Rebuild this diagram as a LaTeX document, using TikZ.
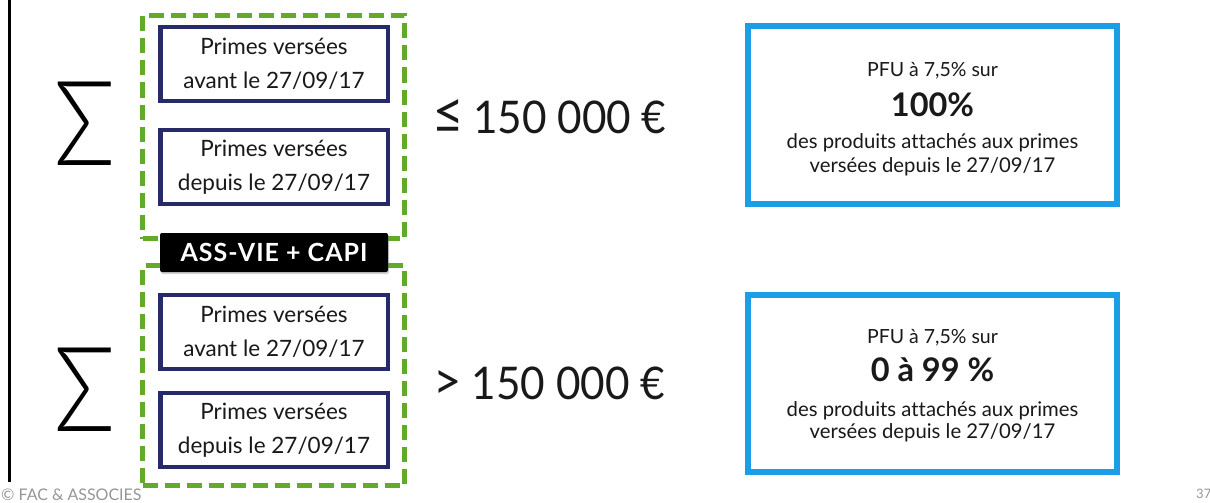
\documentclass[tikz,border=0pt]{standalone}
\usepackage{fontspec}
\setmainfont{Lato}[Ligatures=NoCommon]
\IfFontExistsTF{Lato Light}{\newfontfamily\sigmafont{Lato Light}}{\newfontfamily\sigmafont{Lato}}
\usetikzlibrary{shadows}
\definecolor{navy}{RGB}{38,42,104}
\definecolor{leaf}{RGB}{98,170,42}
\definecolor{sky}{RGB}{28,158,230}
\definecolor{ink}{RGB}{25,25,25}
\definecolor{footgray}{RGB}{150,150,150}
\begin{document}
\begin{tikzpicture}[x=1pt,y=-1pt,
  primebox/.style={draw=navy, line width=4.5pt, minimum width=227.5pt,
    minimum height=74pt, inner sep=0pt, align=center, text=ink,
    font=\fontsize{22.5}{34}\selectfont},
  groupbox/.style={draw=leaf, line width=5pt, dash pattern=on 15pt off 7pt,
    minimum width=262pt, inner sep=0pt},
  tagbox/.style={fill=black, text=white, rounded corners=2pt,
    minimum width=228pt, minimum height=39pt, inner sep=0pt,
    font=\bfseries\addfontfeatures{LetterSpace=4}\fontsize{25}{25}\selectfont,
    drop shadow={opacity=0.35, shadow xshift=1pt, shadow yshift=-2pt}},
  sumsign/.style={text=black, inner sep=0pt, xscale=0.86,
    font=\sigmafont\fontsize{118}{118}\selectfont},
  limit/.style={anchor=base, text=ink, inner sep=0pt, xscale=0.94,
    font=\fontsize{45}{45}\selectfont},
  resultbox/.style={draw=sky, line width=6pt, minimum width=369pt, inner sep=0pt},
  rtext/.style={anchor=base, text=ink, inner sep=0pt, font=\fontsize{20.3}{22}\selectfont},
  rsmall/.style={rtext, font=\fontsize{19.5}{22}\selectfont},
  rbig/.style={anchor=base, text=ink, inner sep=0pt, font=\bfseries\fontsize{32.5}{33}\selectfont},
  foot/.style={text=footgray, inner sep=0pt, font=\fontsize{16}{16}\selectfont}
]
\useasboundingbox (0,0) rectangle (1210,503);
\fill[white] (0,0) rectangle (1210,503);

% left margin rule
\draw[line width=3pt, black] (9.5,0) -- (9.5,482);

% dashed groups
\node[groupbox, minimum height=223pt] (g1) at (273.5,127) {};
\node[groupbox, minimum height=220pt] (g2) at (273.5,375.5) {};

% premium boxes
\node[primebox] (p1) at (274,64)  {Primes versées\\avant le 27/09/17};
\node[primebox] (p2) at (274,167) {Primes versées\\depuis le 27/09/17};
\node[primebox] (p3) at (274,332) {Primes versées\\avant le 27/09/17};
\node[primebox] (p4) at (274,430) {Primes versées\\depuis le 27/09/17};

% contract label
\node[tagbox] (tag) at (274,252.5) {ASS-VIE + CAPI};

% sums
\node[sumsign] (s1) at (85,123.5) {Σ};
\node[sumsign] (s2) at (85,390) {Σ};

% thresholds
\node[limit] (l1) at (549.5,133) {{\fontsize{58}{45}\selectfont ≤}\hspace{-2pt} 150 000 €};
\node[limit] (l2) at (549.5,399.5) {{\fontsize{52}{45}\selectfont >}\hspace{-1pt} 150 000 €};

% results
\node[resultbox, minimum height=178pt] (r1) at (932.5,115) {};
\node[rsmall] (r1a) at (932.5,77)  {PFU à 7,5\% sur};
\node[rbig]   (r1b) at (932.5,116) {100\%};
\node[rtext]  (r1c) at (932.5,148) {des produits attachés aux primes};
\node[rtext]  (r1d) at (932.5,172) {versées depuis le 27/09/17};

\node[resultbox, minimum height=177pt] (r2) at (932.5,383.5) {};
\node[rsmall] (r2a) at (932.5,343)   {PFU à 7,5\% sur};
\node[rbig]   (r2b) at (932.5,381.7) {0 à 99 \%};
\node[rtext]  (r2c) at (932.5,416.7) {des produits attachés aux primes};
\node[rtext]  (r2d) at (932.5,438)   {versées depuis le 27/09/17};

% footer
\node[foot, anchor=base west] (copy) at (1,500) {© FAC \& ASSOCIES};
\node[foot, anchor=base west, font=\fontsize{13}{13}\selectfont] (page) at (1196,498) {37};
\end{tikzpicture}
\end{document}
